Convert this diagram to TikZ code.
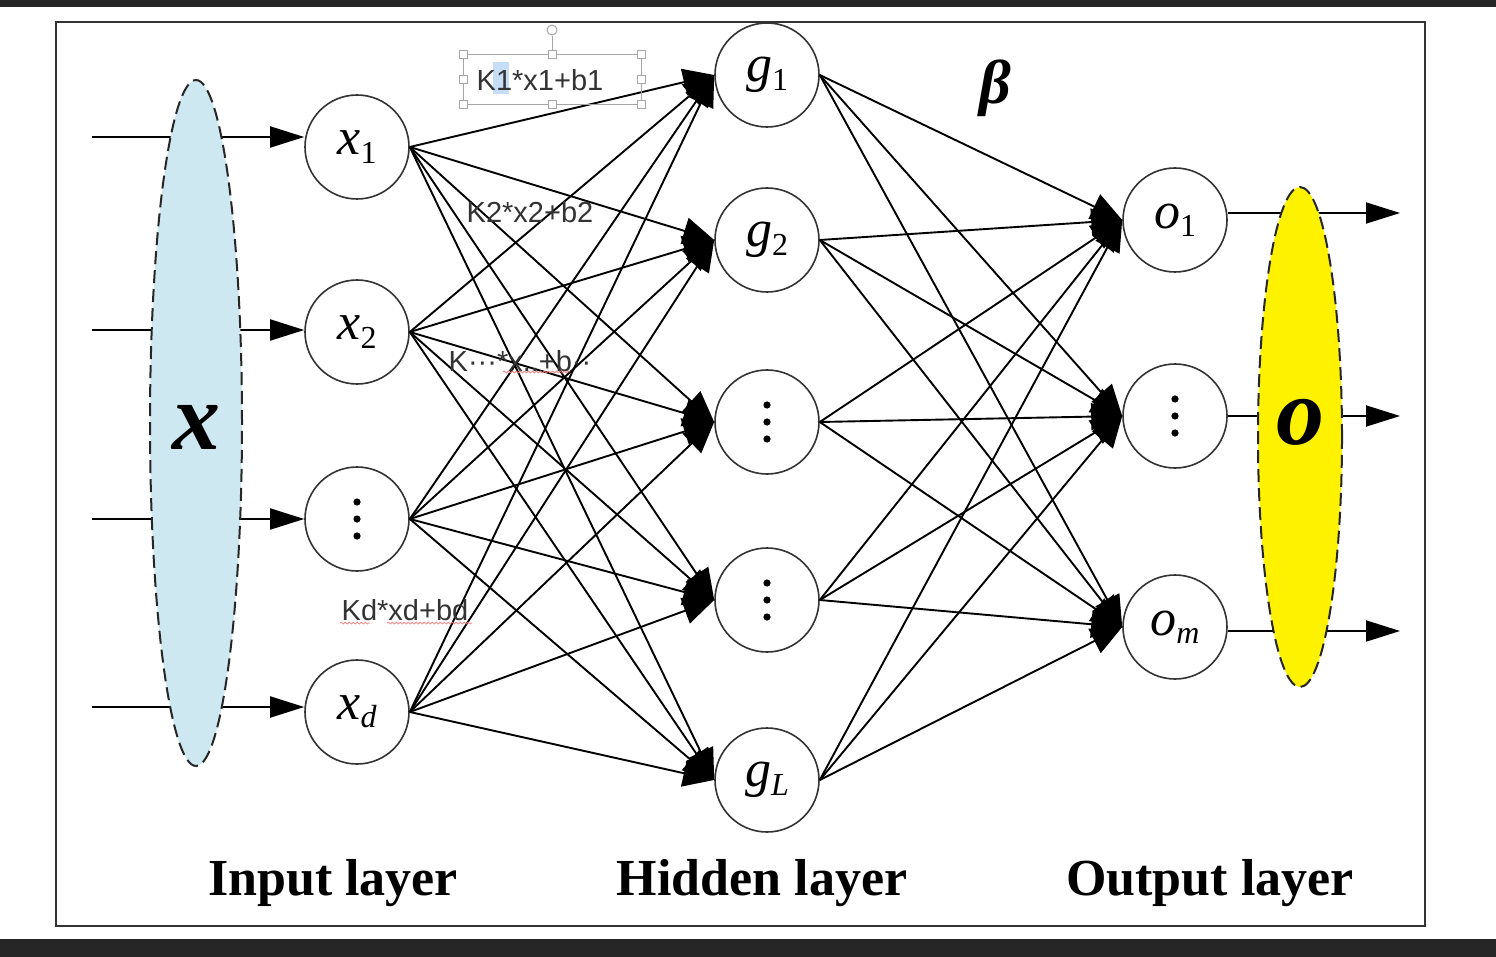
\documentclass[tikz,border=0pt]{standalone}
\usepackage{fontspec}
\setmainfont{Liberation Serif}
\newfontfamily\ksans{Liberation Sans}
\usetikzlibrary{arrows.meta,decorations.pathmorphing}
\definecolor{xblue}{RGB}{205,232,240}
\definecolor{hilite}{RGB}{197,221,245}
\newcommand\nsub[1]{\raisebox{-0.35ex}{\fontsize{32}{32}\selectfont #1}}
\begin{document}
\begin{tikzpicture}[x=1pt,y=-1pt,
  neuron/.style={circle, draw=black!80, line width=1.6pt, fill=white, minimum size=104pt, inner sep=0pt, font=\fontsize{52}{52}\selectfont},
  conn/.style={line width=1.9pt, -{Triangle[length=31pt,width=27pt]}},
  io/.style={line width=1.9pt, -{Triangle[length=34pt,width=21pt]}},
  klabel/.style={font=\ksans\fontsize{29}{29}\selectfont, text=black!80, inner sep=0pt},
  layer/.style={font=\bfseries\fontsize{52}{52}\selectfont, inner sep=0pt},
  blob/.style={line width=2pt, dash pattern=on 13pt off 6pt, draw=black!85},
  squig/.style={draw=red!55, line width=0.7pt, decorate, decoration={snake, amplitude=1pt, segment length=4pt}},
  handle/.style={draw=gray!70, fill=white, line width=0.7pt}]
% background and frame
\fill[white] (0,0) rectangle (1496,957);
\fill[black!85] (0,0) rectangle (1496,7);
\fill[black!85] (0,939) rectangle (1496,957);
\useasboundingbox (0,0) rectangle (1496,957);
\draw[black!80, line width=2pt] (56,22) rectangle (1425,926);

% input layer
\node[neuron] (x1) at (357,147) {\itshape x\nsub{\upshape 1}};
\node[neuron] (x2) at (357,332) {\itshape x\nsub{\upshape 2}};
\node[neuron] (x3) at (357,519) {};
\node[neuron] (xd) at (357,712) {\itshape x\nsub{d}};
% hidden layer
\node[neuron] (g1) at (767,75) {\itshape g\nsub{\upshape 1}};
\node[neuron] (g2) at (767,240) {\itshape g\nsub{\upshape 2}};
\node[neuron] (g3) at (767,422) {};
\node[neuron] (g4) at (767,600) {};
\node[neuron] (gL) at (767,780) {\itshape g\nsub{L}};
% output layer
\node[neuron] (o1) at (1175,220) {\itshape o\nsub{\upshape 1}};
\node[neuron] (o2) at (1175,416) {};
\node[neuron] (om) at (1175,627) {\itshape o\nsub{m}};

% vertical dots
\foreach \n in {x3,g3,g4,o2}{
  \fill (\n) ++(0,-17) circle (3.6pt);
  \fill (\n) circle (3.6pt);
  \fill (\n) ++(0,17) circle (3.6pt);
}

% connections
\foreach \a in {x1,x2,x3,xd}
  \foreach \b in {g1,g2,g3,g4,gL}
    \draw[conn] (\a.east) -- (\b.west);
\foreach \a in {g1,g2,g3,g4,gL}
  \foreach \b in {o1,o2,om}
    \draw[conn] (\a.east) -- (\b.west);

% inputs
\coordinate (i1) at (92,137);
\coordinate (i2) at (92,330);
\coordinate (i3) at (92,519);
\coordinate (i4) at (92,707);
\draw[io] (i1) -- (i1 -| x1.west);
\draw[io] (i2) -- (i2 -| x2.west);
\draw[io] (i3) -- (i3 -| x3.west);
\draw[io] (i4) -- (i4 -| xd.west);
\draw[blob, fill=xblue] (196,423) ellipse [x radius=46pt, y radius=343pt];
\node[font=\bfseries\itshape\fontsize{96}{96}\selectfont, inner sep=0pt] (X) at (196,427) {x};

% outputs
\coordinate (q1) at (1400,213);
\coordinate (q2) at (1400,416);
\coordinate (q3) at (1400,631);
\draw[io] (q1 -| o1.east) -- (q1);
\draw[io] (q2 -| o2.east) -- (q2);
\draw[io] (q3 -| om.east) -- (q3);
\draw[blob, fill=yellow] (1300,437) ellipse [x radius=42pt, y radius=250pt];
\node[font=\bfseries\itshape\fontsize{96}{96}\selectfont, inner sep=0pt] (O) at (1300,422) {o};

% beta
\node[font=\bfseries\itshape\fontsize{62}{62}\selectfont, inner sep=0pt] (beta) at (995,88) {β};

% weight labels
\fill[hilite] (493,62) rectangle (509,94);
\node[klabel] (k1) at (540,80) {K1*x1+b1};
\draw[gray!70, line width=0.7pt] (463,54) rectangle (641,104);
\draw[gray!70, line width=0.7pt] (552,54) -- (552,36);
\draw[gray!70, line width=1pt] (552,30) circle (5pt);
\foreach \p in {(463,54),(552,54),(641,54),(463,79),(641,79),(463,104),(552,104),(641,104)}
  \draw[handle] \p ++(-4,-4) rectangle ++(8,8);
\node[klabel] (k2) at (530,212) {K2*x2+b2};
\node[klabel] (k3) at (520,361) {K···*x..+b··};
\draw[squig] (503,372) -- (570,372);
\node[klabel] (k4) at (405,610) {Kd*xd+bd};
\draw[squig] (340,623) -- (370,623);
\draw[squig] (387,623) -- (472,623);

% layer labels
\node[layer] (L1) at (333,883) {Input layer};
\node[layer] (L2) at (762,883) {Hidden layer};
\node[layer] (L3) at (1210,883) {Output layer};
\end{tikzpicture}
\end{document}
